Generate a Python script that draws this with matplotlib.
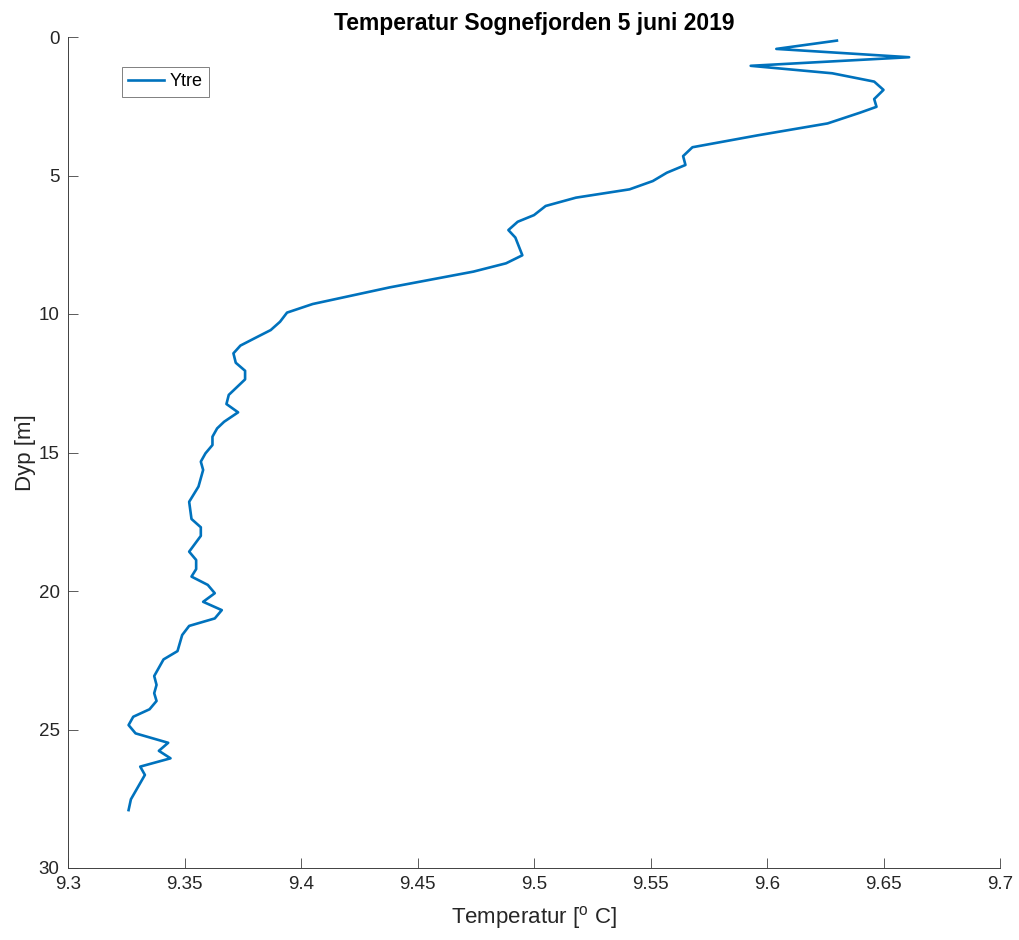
import numpy as np
import matplotlib
matplotlib.use("Agg")
import matplotlib.pyplot as plt

plt.rcParams['font.family'] = ['Liberation Sans', 'DejaVu Sans']
plt.rcParams['mathtext.fontset'] = 'custom'
plt.rcParams['mathtext.rm'] = 'Liberation Sans'

# CTD profile, outer station
temperatur = [
    9.630, 9.604, 9.661, 9.593, 9.628, 9.646, 9.650, 9.646, 9.647, 9.640,
    9.626, 9.596, 9.568, 9.564, 9.565, 9.557, 9.551, 9.541, 9.518, 9.505,
    9.500, 9.493, 9.489, 9.492, 9.495, 9.488, 9.474, 9.438, 9.405, 9.394,
    9.391, 9.387, 9.380, 9.374, 9.371, 9.372, 9.376, 9.376, 9.369, 9.368,
    9.373, 9.367, 9.364, 9.362, 9.362, 9.359, 9.357, 9.358, 9.356, 9.352,
    9.353, 9.357, 9.357, 9.352, 9.355, 9.355, 9.353, 9.360, 9.363, 9.358,
    9.366, 9.363, 9.352, 9.349, 9.347, 9.341, 9.337, 9.338, 9.337, 9.338,
    9.335, 9.328, 9.326, 9.329, 9.343, 9.339, 9.344, 9.331, 9.333, 9.327,
    9.326,
]
dyp = [
    0.13, 0.43, 0.73, 1.04, 1.31, 1.61, 1.91, 2.24, 2.52, 2.73,
    3.12, 3.55, 3.98, 4.30, 4.62, 4.90, 5.20, 5.50, 5.80, 6.10,
    6.43, 6.67, 6.97, 7.24, 7.88, 8.17, 8.47, 9.04, 9.64, 9.95,
    10.28, 10.58, 10.88, 11.14, 11.42, 11.76, 12.05, 12.36, 12.92, 13.25,
    13.55, 13.89, 14.13, 14.43, 14.73, 15.03, 15.33, 15.63, 16.23, 16.78,
    17.40, 17.70, 18.01, 18.58, 18.88, 19.21, 19.48, 19.78, 20.08, 20.39,
    20.69, 20.99, 21.26, 21.59, 22.17, 22.47, 23.07, 23.39, 23.69, 23.97,
    24.27, 24.54, 24.84, 25.14, 25.48, 25.77, 26.04, 26.34, 26.64, 27.52,
    27.91,
]
xticks = [9.3, 9.35, 9.4, 9.45, 9.5, 9.55, 9.6, 9.65, 9.7]
xticklabels = ['9.3', '9.35', '9.4', '9.45', '9.5', '9.55', '9.6', '9.65', '9.7']
yticks = [0, 5, 10, 15, 20, 25, 30]

fig = plt.figure(figsize=(10.2, 9.4), dpi=100)
ax = fig.add_axes([68 / 1020, 1 - 868 / 940, 932 / 1020, 831 / 940])

ax.plot(temperatur, dyp, color='#0072BD', linewidth=1.9, label='Ytre')

ax.set_xlim(9.3, 9.7)
ax.set_ylim(30, 0)
ax.set_xticks(xticks)
ax.set_xticklabels(xticklabels)
ax.set_yticks(yticks)

axis_col = '#404040'
for side in ['top', 'right']:
    ax.spines[side].set_visible(False)
for side in ['left', 'bottom']:
    ax.spines[side].set_color(axis_col)
    ax.spines[side].set_linewidth(0.7)
ax.tick_params(direction='in', length=7, width=0.6, color=axis_col,
               labelsize=13.5, labelcolor='#262626')
ax.tick_params(axis='x', pad=6)
ax.tick_params(axis='y', pad=6)

ax.set_xlabel('Temperatur [$^{\\mathrm{o}}$ C]', fontsize=16, color='#262626',
              labelpad=8)
ax.set_ylabel('Dyp [m]', fontsize=16, color='#262626', labelpad=2)
ax.set_title('Temperatur Sognefjorden 5 juni 2019', fontsize=16.5,
             fontweight='bold', pad=5)

leg = ax.legend(loc='upper left', bbox_to_anchor=(0.058, 0.964), fontsize=13,
                fancybox=False, framealpha=1, edgecolor='#808080',
                handlelength=2.0, handletextpad=0.3, borderpad=0.35,
                borderaxespad=0)
leg.get_frame().set_linewidth(0.7)

fig.savefig('out.png', dpi=100)
